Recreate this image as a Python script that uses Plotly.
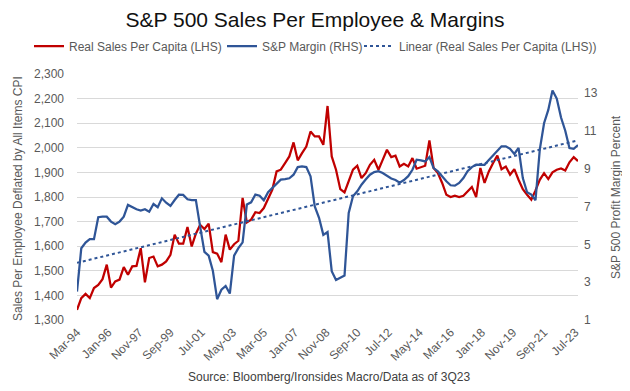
import numpy as np
import pandas as pd
import plotly.graph_objects as go

# ---------------- data (quarterly, 1Q94 .. 3Q23) ----------------
first_quarter = "1994-03-01"
real_sales_per_capita = [
    1341, 1389, 1406, 1389, 1430, 1443, 1466, 1525, 1432, 1457,
    1464, 1515, 1484, 1518, 1520, 1592, 1453, 1552, 1558, 1518,
    1525, 1538, 1565, 1647, 1610, 1610, 1678, 1599, 1651, 1687,
    1670, 1692, 1576, 1570, 1535, 1647, 1586, 1608, 1622, 1796,
    1697, 1708, 1738, 1735, 1755, 1796, 1830, 1904, 1911, 1938,
    1965, 2022, 1949, 1978, 2005, 2066, 2046, 2046, 2012, 2170,
    1965, 1911, 1832, 1819, 1864, 1911, 1927, 1877, 1897, 1931,
    1951, 1911, 1951, 1992, 1962, 1968, 1924, 1935, 1924, 1958,
    1915, 1922, 1927, 2030, 1918, 1897, 1857, 1809, 1800, 1805,
    1800, 1805, 1823, 1841, 1800, 1918, 1857, 1904, 1938, 1968,
    1913, 1924, 1891, 1913, 1870, 1832, 1809, 1789, 1827, 1870,
    1897, 1873, 1900, 1911, 1916, 1908, 1941, 1962, 1946,
]
sp_margin = [
    2.50, 4.79, 5.09, 5.27, 5.27, 6.43, 6.46, 6.46, 6.20, 6.06,
    6.20, 6.46, 7.08, 6.96, 6.85, 6.78, 6.85, 6.72, 7.13, 6.96,
    7.43, 7.20, 7.03, 7.34, 7.62, 7.61, 7.38, 7.34, 7.34, 5.93,
    4.60, 4.40, 3.60, 2.10, 2.60, 2.80, 2.40, 4.40, 4.80, 5.10,
    7.10, 7.22, 7.63, 7.57, 7.33, 7.75, 7.98, 8.21, 8.42, 8.45,
    8.49, 8.68, 9.08, 9.12, 9.08, 8.59, 7.00, 6.40, 5.50, 5.65,
    3.58, 3.11, 3.23, 3.35, 6.66, 7.54, 7.80, 8.15, 8.42, 8.68,
    8.82, 8.86, 8.77, 8.60, 8.48, 8.40, 8.26, 8.40, 8.60, 8.94,
    9.47, 9.44, 9.38, 9.61, 9.03, 8.86, 8.59, 8.33, 8.12, 8.10,
    8.24, 8.50, 8.86, 9.08, 9.21, 9.21, 9.20, 9.45, 9.70, 9.96,
    10.18, 10.18, 10.05, 9.78, 10.09, 8.50, 7.75, 7.63, 7.33, 10.00,
    11.40, 12.10, 13.13, 12.70, 11.70, 11.00, 10.09, 10.05, 10.24,
]
x_tick_labels = ["Mar-94", "Jan-96", "Nov-97", "Sep-99", "Jul-01", "May-03",
                 "Mar-05", "Jan-07", "Nov-08", "Sep-10", "Jul-12", "May-14",
                 "Mar-16", "Jan-18", "Nov-19", "Sep-21", "Jul-23"]
left_range = [1300, 2300]
right_range = [1, 14]
right_ticks = [1, 3, 5, 7, 9, 11, 13]

# ---------------- derived ----------------
dates = pd.date_range(first_quarter, periods=len(real_sales_per_capita), freq="3MS")
tickvals = [pd.to_datetime(t, format="%b-%y") for t in x_tick_labels]
idx = np.arange(len(real_sales_per_capita))
slope, intercept = np.polyfit(idx, real_sales_per_capita, 1)
trend = slope * idx + intercept

RED = "#C00000"
BLUE = "#2F5597"
GRAY = "#595959"
FONT = "Liberation Sans, Arial, sans-serif"

# The page body adds an 8px margin, so the figure is laid out 8px smaller
# and every position below is given in window pixels, then shifted.
OFF = 8
WIN_W, WIN_H = 630, 391
W, H = WIN_W - OFF, WIN_H - OFF
PLOT_X0, PLOT_X1, PLOT_Y0, PLOT_Y1 = 77, 578, 74, 320  # window pixels
L = PLOT_X0 - OFF
T = PLOT_Y0 - OFF
PW = PLOT_X1 - PLOT_X0
PH = PLOT_Y1 - PLOT_Y0
R = W - L - PW
B = H - T - PH


def px_x(px):
    return (px - PLOT_X0) / PW


def px_y(py):
    return (PLOT_Y1 - py) / PH


def legend_at(px_left):
    return dict(orientation="h", xref="paper", yref="paper",
                x=px_x(px_left), xanchor="left", y=px_y(46), yanchor="middle",
                font=dict(family=FONT, size=12, color=GRAY), itemwidth=30,
                bgcolor="rgba(0,0,0,0)", borderwidth=0)


fig = go.Figure()
fig.add_trace(go.Scatter(x=dates, y=real_sales_per_capita, mode="lines",
                         name="Real Sales Per Capita (LHS)", legend="legend",
                         line=dict(color=RED, width=2.25)))
fig.add_trace(go.Scatter(x=dates, y=sp_margin, mode="lines", yaxis="y2",
                         name="S&P Margin (RHS)", legend="legend2",
                         line=dict(color=BLUE, width=2.25)))
fig.add_trace(go.Scatter(x=dates, y=trend, mode="lines",
                         name="Linear (Real Sales Per Capita (LHS))", legend="legend3",
                         line=dict(color=BLUE, width=2, dash="dot")))

fig.update_layout(
    width=W, height=H,
    margin=dict(l=L, r=R, t=T, b=B, autoexpand=False),
    paper_bgcolor="white", plot_bgcolor="white",
    font=dict(family=FONT, color=GRAY, size=12),
    title=dict(text="S&P 500 Sales Per Employee & Margins",
               xref="container", x=(315 - OFF) / W, xanchor="center",
               yref="container", y=1 - (20 - OFF) / H, yanchor="middle",
               font=dict(family=FONT, size=21, color="#111111")),
    showlegend=True,
    legend=legend_at(29),
    legend2=legend_at(222),
    legend3=legend_at(359),
    xaxis=dict(type="date", range=[dates[0], dates[-1]],
               tickmode="array", tickvals=tickvals, ticktext=x_tick_labels,
               tickangle=-45, showgrid=False, zeroline=False, showline=False,
               ticks="", tickfont=dict(size=12, color=GRAY), ticklabelstandoff=2),
    yaxis=dict(range=left_range, dtick=100, tickformat=",d", showgrid=True,
               gridcolor="#D9D9D9", gridwidth=1, zeroline=False, showline=False,
               ticks="", tickfont=dict(size=12, color=GRAY), ticklabelstandoff=12),
    yaxis2=dict(range=right_range, tickmode="array", tickvals=right_ticks,
                overlaying="y", side="right", showgrid=False, zeroline=False,
                showline=False, ticks="", tickfont=dict(size=12, color=GRAY),
                ticklabelstandoff=5),
    annotations=[
        dict(text="Sales Per Employee Deflated by All Items CPI", textangle=-90,
             xref="paper", yref="paper", x=px_x(18), y=px_y(199),
             xanchor="center", yanchor="middle", showarrow=False,
             font=dict(size=12, color=GRAY)),
        dict(text="S&P 500 Profit Margin Percent", textangle=-90,
             xref="paper", yref="paper", x=px_x(616), y=px_y(197),
             xanchor="center", yanchor="middle", showarrow=False,
             font=dict(size=12, color=GRAY)),
        dict(text="Source: Bloomberg/Ironsides Macro/Data as of 3Q23",
             xref="paper", yref="paper", x=px_x(329), y=px_y(377),
             xanchor="center", yanchor="middle", showarrow=False,
             font=dict(size=12, color="#404040")),
    ],
)

fig.write_html("out.html")
